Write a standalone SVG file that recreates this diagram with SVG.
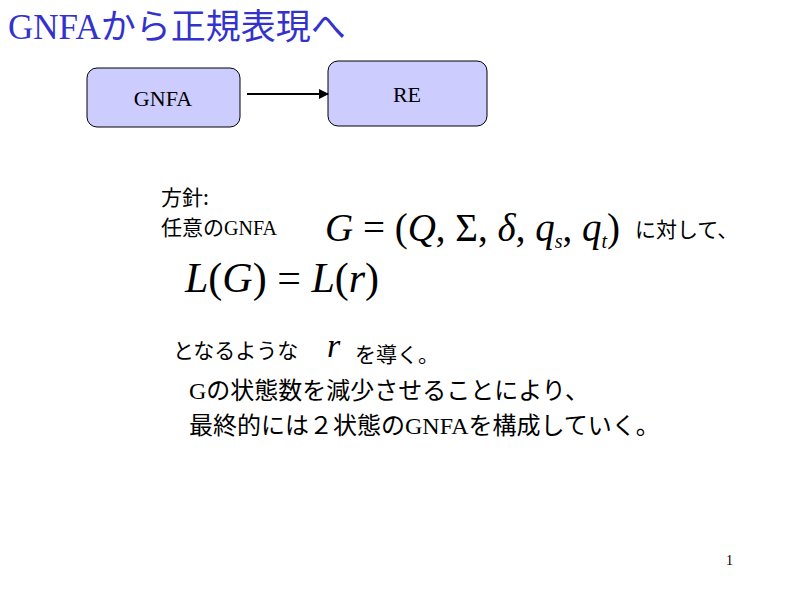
<svg xmlns="http://www.w3.org/2000/svg" width="800" height="600" viewBox="0 0 800 600">
<style>
.js{font-family:"Noto Sans CJK JP",sans-serif;fill:#000}
.box{fill:#ccccff;stroke:#000;stroke-width:1}
</style>
<defs><marker id="ah" markerWidth="10" markerHeight="10" refX="9" refY="5" orient="auto" markerUnits="userSpaceOnUse"><path d="M0,0 L10,5 L0,10 z" fill="#000"/></marker></defs>
<rect width="800" height="600" fill="#fff"/>
<text x="8" y="39" font-size="35" font-family="Liberation Serif, Noto Sans CJK JP, serif" fill="#3333cc">GNFAから正規表現へ</text>
<g id="gnfa"><rect class="box" x="87" y="68" width="153" height="59" rx="10"/><text font-family="Liberation Serif, serif" x="163" y="106" font-size="22" text-anchor="middle">GNFA</text></g>
<g id="re"><rect class="box" x="328" y="61" width="159" height="65" rx="10"/><text font-family="Liberation Serif, serif" x="407" y="102" font-size="22" text-anchor="middle">RE</text></g>
<g id="connectors"><line x1="247" y1="94" x2="328" y2="94" stroke="#000" stroke-width="2" marker-end="url(#ah)"/></g>
<text class="js" x="161" y="205" font-size="21">方針:</text>
<text class="js" x="161" y="235" font-size="21">任意の<tspan font-family="Liberation Serif, serif" font-size="20">GNFA</tspan></text>
<text font-family="Liberation Serif, serif" x="325" y="241" font-size="39"><tspan font-style="italic">G</tspan> = (<tspan font-style="italic">Q</tspan>, Σ, <tspan font-style="italic">δ</tspan>, <tspan font-style="italic">q</tspan><tspan font-style="italic" font-size="20" dy="7">s</tspan><tspan dy="-7">, </tspan><tspan font-style="italic">q</tspan><tspan font-style="italic" font-size="20" dy="7">t</tspan><tspan dy="-7">)</tspan></text>
<text class="js" x="635" y="237" font-size="21">に対して、</text>
<text font-family="Liberation Serif, serif" x="185" y="292" font-size="42"><tspan font-style="italic">L</tspan>(<tspan font-style="italic">G</tspan>) = <tspan font-style="italic">L</tspan>(<tspan font-style="italic">r</tspan>)</text>
<text class="js" x="173" y="358" font-size="21">となるような</text>
<text font-family="Liberation Serif, serif" x="327" y="357" font-size="34" font-style="italic">r</text>
<text class="js" x="355" y="362" font-size="21">を導く。</text>
<text class="js" x="189" y="399" font-size="24"><tspan font-family="Liberation Serif, serif" font-size="24">G</tspan>の状態数を減少させることにより、</text>
<text class="js" x="189" y="434" font-size="24">最終的には２状態の<tspan font-family="Liberation Serif, serif" font-size="24">GNFA</tspan>を構成していく。</text>
<text font-family="Liberation Serif, serif" x="726" y="565" font-size="14">1</text>
</svg>
